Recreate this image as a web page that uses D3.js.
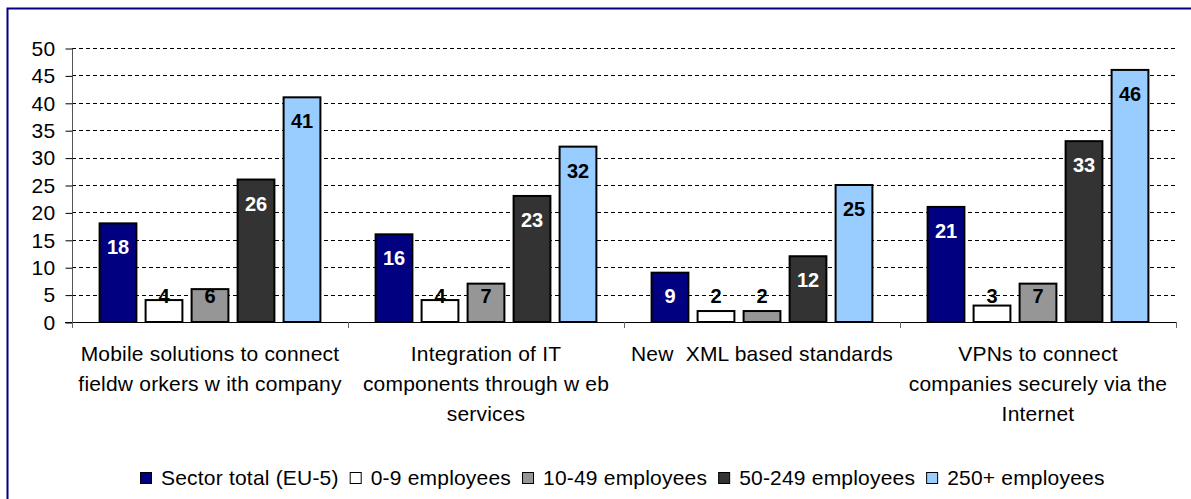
<!DOCTYPE html>
<html>
<head>
<meta charset="utf-8">
<script src="https://cdn.jsdelivr.net/npm/d3@7"></script>
<style>
  html, body { margin: 0; padding: 0; background: #fff; overflow: hidden; }
  svg { display: block; font-family: "Liberation Sans", Arial, sans-serif; }
  text { white-space: pre; }
</style>
</head>
<body>
<svg id="chart" width="1191" height="499"></svg>
<script>
// Technologies (one group of bars each); each entry holds the wrapped label lines
const categories = [
  ["Mobile solutions to connect", "fieldw orkers w ith company"],
  ["Integration of IT", "components through w eb", "services"],
  ["New  XML based standards"],
  ["VPNs to connect", "companies securely via the", "Internet"]
];

// Company size classes
const seriesNames = ["Sector total (EU-5)", "0-9 employees", "10-49 employees", "50-249 employees", "250+ employees"];
const seriesColors = ["#000080", "#ffffff", "#969696", "#333333", "#99ccff"];
const labelColors = ["#ffffff", "#000000", "#000000", "#ffffff", "#000000"];

// Share of companies (%) per technology, one array per size class
const sectorTotal = [18, 16, 9, 21];
const emp0to9 = [4, 4, 2, 3];
const emp10to49 = [6, 7, 2, 7];
const emp50to249 = [26, 23, 12, 33];
const emp250plus = [41, 32, 25, 46];
const seriesValues = [sectorTotal, emp0to9, emp10to49, emp50to249, emp250plus];

const yTicks = [0, 5, 10, 15, 20, 25, 30, 35, 40, 45, 50];

const svg = d3.select("#chart");

// outer frame
svg.append("rect")
  .attr("x", 7.5).attr("y", 8.5)
  .attr("width", 1300).attr("height", 600)
  .attr("fill", "none").attr("stroke", "#000080").attr("stroke-width", 2);

const plotLeft = 72, plotRight = 1176, plotTop = 48, plotBottom = 322;

const x0 = d3.scaleBand().domain(d3.range(categories.length)).range([plotLeft, plotRight]).padding(0);
const x1 = d3.scaleBand().domain(d3.range(seriesNames.length)).range([0, x0.bandwidth()])
  .paddingInner(0.2).paddingOuter(0.6);
const y = d3.scaleLinear().domain([0, 50]).range([plotBottom, plotTop]);

// dashed gridlines
svg.append("g")
  .selectAll("line")
  .data(yTicks.filter(d => d > 0))
  .join("line")
  .attr("x1", plotLeft).attr("x2", plotRight)
  .attr("y1", d => Math.round(y(d)) + 0.5).attr("y2", d => Math.round(y(d)) + 0.5)
  .attr("stroke", "#000").attr("stroke-width", 1)
  .attr("stroke-dasharray", "4,3");

// y axis
const yAxis = svg.append("g")
  .attr("transform", `translate(${plotLeft + 0.5},0.5)`)
  .call(d3.axisLeft(y).tickValues(yTicks).tickSize(7).tickPadding(10).tickFormat(d3.format("d")));
yAxis.select(".domain").attr("stroke", "#555").attr("d", `M0,${y(0)}V${y(50)}`);
yAxis.selectAll(".tick line").attr("stroke", "#000");
yAxis.selectAll(".tick text")
  .attr("font-family", "Liberation Sans, Arial, sans-serif")
  .attr("font-size", 21).attr("letter-spacing", 0.3).attr("fill", "#000");

// bars
const groups = svg.append("g").selectAll("g")
  .data(categories.map((c, i) => i))
  .join("g")
  .attr("transform", i => `translate(${x0(i)},0)`);

groups.selectAll("rect")
  .data(ci => seriesValues.map((vals, si) => ({ si, v: vals[ci] })))
  .join("rect")
  .attr("x", d => x1(d.si))
  .attr("y", d => y(d.v))
  .attr("width", x1.bandwidth())
  .attr("height", d => y(0) - y(d.v))
  .attr("fill", d => seriesColors[d.si])
  .attr("stroke", "#000").attr("stroke-width", 2);

// value labels, inside the top of the bar (pushed up when the bar is short)
groups.selectAll("text.val")
  .data(ci => seriesValues.map((vals, si) => ({ si, v: vals[ci] })))
  .join("text")
  .attr("class", "val")
  .attr("x", d => x1(d.si) + x1.bandwidth() / 2)
  .attr("y", d => Math.min(y(d.v) + 24, y(0) - 26) + 7)
  .attr("text-anchor", "middle")
  .attr("font-size", 20).attr("font-weight", "bold")
  .attr("fill", d => labelColors[d.si])
  .text(d => d.v);

// x axis line and category separators
svg.append("line")
  .attr("x1", plotLeft - 7).attr("x2", plotRight)
  .attr("y1", plotBottom + 0.5).attr("y2", plotBottom + 0.5)
  .attr("stroke", "#000").attr("stroke-width", 1);
svg.append("g").selectAll("line")
  .data(d3.range(categories.length + 1))
  .join("line")
  .attr("x1", i => Math.round(plotLeft + i * x0.step()) + 0.5)
  .attr("x2", i => Math.round(plotLeft + i * x0.step()) + 0.5)
  .attr("y1", plotBottom).attr("y2", plotBottom + 6)
  .attr("stroke", "#666").attr("stroke-width", 1);

// category labels
const catLabels = svg.append("g").selectAll("text")
  .data(categories)
  .join("text")
  .attr("text-anchor", "middle")
  .attr("font-size", 21).attr("letter-spacing", 0.2).attr("fill", "#000")
  .attr("transform", (d, i) => `translate(${x0(i) + x0.bandwidth() / 2},361)`);
catLabels.selectAll("tspan")
  .data(d => d)
  .join("tspan")
  .attr("x", 0)
  .attr("y", (d, i) => i * 30)
  .text(d => d);

// legend
const legend = svg.append("g");
let lx = 0;
seriesNames.forEach((name, i) => {
  const item = legend.append("g").attr("transform", `translate(${lx},0)`);
  item.append("rect")
    .attr("x", 0.5).attr("y", -5.5).attr("width", 11).attr("height", 11)
    .attr("fill", seriesColors[i]).attr("stroke", "#000").attr("stroke-width", 1);
  const t = item.append("text")
    .attr("x", 21).attr("y", 7)
    .attr("font-size", 21).attr("letter-spacing", 0.2).attr("fill", "#000")
    .text(name);
  lx += 21 + t.node().getComputedTextLength() + 11;
});
const legendWidth = lx - 11;
legend.attr("transform", `translate(${Math.round(622 - legendWidth / 2)},478)`);
</script>
</body>
</html>
